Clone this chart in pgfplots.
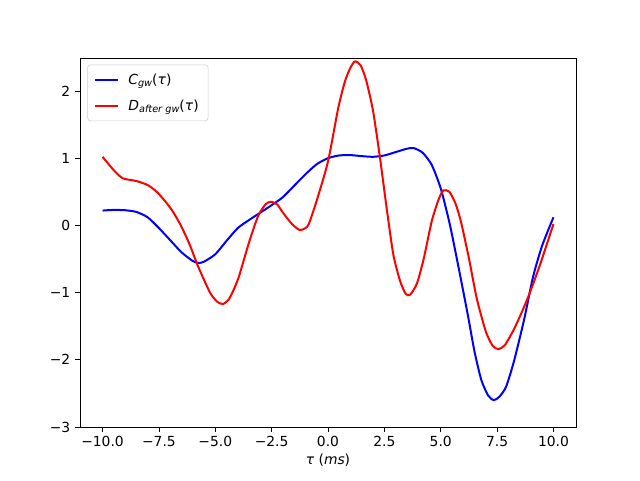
\documentclass[border=0pt]{standalone}
\usepackage{pgfplots}
\pgfplotsset{compat=1.18}
\usepackage{fontspec}
\setmainfont{DejaVu Sans}
\begin{document}
\fontsize{10.4}{12}\selectfont
\begin{tikzpicture}
\path[use as bounding box] (0,0) rectangle (480pt,360pt);
\begin{axis}[
  at={(60pt,39.75pt)}, anchor=south west,
  scale only axis, width=372pt, height=276.75pt,
  xmin=-11, xmax=11, ymin=-3, ymax=2.49,
  xtick={-10,-7.5,-5,-2.5,0,2.5,5,7.5,10},
  xticklabels={−10.0,−7.5,−5.0,−2.5,0.0,2.5,5.0,7.5,10.0},
  ytick={-3,-2,-1,0,1,2},
  yticklabels={−3,−2,−1,0,1,2},
  tick align=outside, tick pos=left,
  major tick length=3.6pt,
  every tick/.style={black, line width=0.6pt},
  axis line style={line width=0.6pt},
  tick label style={font=\fontsize{10.4}{12}\selectfont},
  xlabel={{\itshape τ} ({\itshape ms})},
  xlabel style={font=\fontsize{10.4}{12}\selectfont, yshift=2pt},
  legend style={font=\fontsize{10.4}{12}\selectfont, draw=black!20, rounded corners=2pt,
    at={(0.015,0.982)}, anchor=north west, inner xsep=5pt, inner ysep=4.5pt, row sep=6pt,
    nodes={inner sep=2pt}},
  legend cell align=left,
  legend image code/.code={\draw[#1] (0pt,0pt) -- (17pt,0pt);},
  /tikz/every odd column/.append style={column sep=5pt},
]
\addplot[blue, line width=1.5pt, smooth, tension=0.4] coordinates {
(-10,0.22) (-9.5,0.23) (-9,0.225) (-8.5,0.20) (-8,0.12) (-7.5,-0.04) (-7,-0.22)
(-6.5,-0.40) (-6,-0.53) (-5.75,-0.56) (-5.5,-0.54) (-5,-0.43) (-4.5,-0.23) (-4,-0.04)
(-3.5,0.08) (-3,0.19) (-2.5,0.30) (-2,0.42) (-1.5,0.59) (-1,0.76) (-0.5,0.91) (0,1.0)
(0.5,1.04) (1,1.045) (1.5,1.03) (2,1.02) (2.5,1.04) (3,1.09) (3.5,1.14) (3.8,1.15)
(4.2,1.08) (4.6,0.90) (5,0.55) (5.4,0.02) (5.8,-0.64) (6.2,-1.33) (6.5,-1.88)
(6.8,-2.30) (7.1,-2.53) (7.35,-2.60) (7.6,-2.55) (7.9,-2.40) (8.25,-2.02) (8.7,-1.40)
(9.1,-0.76) (9.5,-0.30) (10,0.12)
};
\addlegendentry{{\itshape C}\raisebox{-0.35ex}{\fontsize{7.3}{8}\selectfont\itshape gw}(\textit{τ})}
\addplot[red, line width=1.5pt, smooth, tension=0.4] coordinates {
(-10,1.02) (-9.5,0.82) (-9.1,0.70) (-8.5,0.66) (-8,0.60) (-7.6,0.50) (-7.2,0.35)
(-6.87,0.20) (-6.5,-0.02) (-6.13,-0.29) (-5.8,-0.58) (-5.5,-0.81) (-5.2,-1.02)
(-4.9,-1.14) (-4.65,-1.17) (-4.4,-1.10) (-4.2,-0.97) (-3.95,-0.76) (-3.5,-0.25)
(-3.1,0.14) (-2.75,0.32) (-2.5,0.35) (-2.25,0.31) (-2.0,0.19) (-1.6,0.02) (-1.25,-0.07)
(-1.0,-0.04) (-0.85,0.02) (-0.5,0.37) (0,0.95) (0.45,1.74) (0.75,2.14) (1.0,2.35)
(1.2,2.44) (1.45,2.38) (1.7,2.15) (2.0,1.70) (2.3,1.02) (2.6,0.26) (2.9,-0.44)
(3.2,-0.83) (3.45,-1.02) (3.65,-1.03) (3.95,-0.86) (4.25,-0.49) (4.6,0.06) (4.9,0.38)
(5.12,0.52) (5.38,0.50) (5.65,0.33) (5.9,0.05) (6.25,-0.49) (6.6,-1.09) (7.0,-1.58)
(7.3,-1.79) (7.55,-1.84) (7.85,-1.78) (8.3,-1.51) (8.85,-1.09) (9.4,-0.59) (10,0.02)
};
\addlegendentry{{\itshape D}\raisebox{-0.35ex}{\fontsize{7.3}{8}\selectfont\itshape after gw}(\textit{τ})}
\end{axis}
\end{tikzpicture}
\end{document}
